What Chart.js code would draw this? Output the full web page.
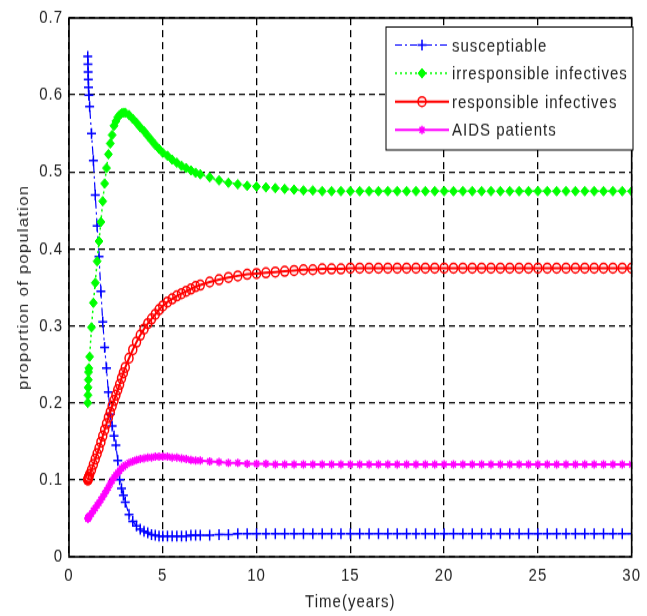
<!DOCTYPE html>
<html>
<head>
<meta charset="utf-8">
<title>Proportion of population over time</title>
<script src="https://cdn.jsdelivr.net/npm/chart.js@4.4.0/dist/chart.umd.min.js"></script>
<style>
  html, body { margin: 0; padding: 0; background: #fff; }
  #page { width: 647px; height: 616px; position: relative; }
  /* the reference picture is stretched a little in height, so the canvas is too */
  #wrap { position: absolute; left: 0; top: 0; width: 647px; height: 513px; transform: scaleY(1.2); transform-origin: 0 0; }
</style>
</head>
<body>
<div id="page"><div id="wrap"><canvas id="popChart" width="647" height="513"></canvas></div></div>
<script>
// ====== DATA ======
const time = [
  1, 1.01, 1.02, 1.03, 1.04, 1.06, 1.1,
  1.2, 1.3, 1.4, 1.5, 1.6, 1.7, 1.8, 1.9, 2.0, 2.1, 2.2, 2.3, 2.4, 2.5, 2.6, 2.7, 2.8, 2.9, 3.0,
  3.2, 3.4, 3.6, 3.8, 4.0, 4.2, 4.4, 4.6, 4.8, 5.0,
  5.25, 5.5, 5.75, 6.0, 6.25, 6.5, 6.75, 7.0,
  7.5, 8, 8.5, 9, 9.5, 10,
  10.5, 11, 11.5, 12, 12.5, 13, 13.5, 14, 14.5, 15, 15.5, 16, 16.5, 17, 17.5, 18, 18.5, 19, 19.5, 20,
  20.5, 21, 21.5, 22, 22.5, 23, 23.5, 24, 24.5, 25, 25.5, 26, 26.5, 27, 27.5, 28, 28.5, 29, 29.5, 30
];

const susceptible = [
  0.65, 0.64, 0.63, 0.62, 0.61, 0.60, 0.585,
  0.55, 0.515, 0.47, 0.43, 0.39, 0.345, 0.305, 0.272, 0.245, 0.214, 0.185, 0.17, 0.157, 0.145, 0.125, 0.1, 0.089, 0.08, 0.071,
  0.055, 0.046, 0.04, 0.036, 0.033, 0.031, 0.029, 0.028, 0.027, 0.027,
  0.027, 0.027, 0.027, 0.027, 0.027, 0.028, 0.028, 0.028,
  0.028, 0.029, 0.029, 0.03, 0.03, 0.03,
  0.03, 0.03, 0.03, 0.03, 0.03, 0.03, 0.03, 0.03, 0.03, 0.03, 0.03, 0.03, 0.03, 0.03, 0.03, 0.03, 0.03, 0.03, 0.03, 0.03,
  0.03, 0.03, 0.03, 0.03, 0.03, 0.03, 0.03, 0.03, 0.03, 0.03, 0.03, 0.03, 0.03, 0.03, 0.03, 0.03, 0.03, 0.03, 0.03, 0.03
];

const irresponsible = [
  0.2, 0.21, 0.22, 0.23, 0.24, 0.245, 0.26,
  0.298, 0.33, 0.356, 0.384, 0.41, 0.435, 0.462, 0.485, 0.505, 0.523, 0.537, 0.548, 0.56, 0.566, 0.571, 0.574, 0.576, 0.577, 0.577,
  0.574, 0.569, 0.564, 0.558, 0.553, 0.547, 0.541, 0.535, 0.53, 0.525,
  0.521, 0.516, 0.512, 0.508, 0.505, 0.502, 0.499, 0.497,
  0.493, 0.489, 0.486, 0.484, 0.482, 0.481,
  0.48, 0.479, 0.478, 0.477, 0.476, 0.476, 0.475, 0.475, 0.475, 0.475, 0.475, 0.475, 0.475, 0.475, 0.475, 0.475, 0.475, 0.475, 0.475, 0.475,
  0.475, 0.475, 0.475, 0.475, 0.475, 0.475, 0.475, 0.475, 0.475, 0.475, 0.475, 0.475, 0.475, 0.475, 0.475, 0.475, 0.475, 0.475, 0.475, 0.475
];

const responsible = [
  0.1, 0.1, 0.101, 0.102, 0.103, 0.104, 0.107,
  0.113, 0.12, 0.127, 0.134, 0.141, 0.149, 0.157, 0.165, 0.173, 0.181, 0.188, 0.196, 0.203, 0.21, 0.217, 0.224, 0.232, 0.239, 0.246,
  0.258, 0.269, 0.279, 0.288, 0.296, 0.303, 0.309, 0.315, 0.321, 0.326,
  0.331, 0.335, 0.339, 0.342, 0.345, 0.348, 0.351, 0.353,
  0.357, 0.36, 0.363, 0.365, 0.367, 0.368,
  0.369, 0.37, 0.371, 0.372, 0.373, 0.373, 0.374, 0.374, 0.374, 0.375, 0.375, 0.375, 0.375, 0.375, 0.375, 0.375, 0.375, 0.375, 0.375, 0.375,
  0.375, 0.375, 0.375, 0.375, 0.375, 0.375, 0.375, 0.375, 0.375, 0.375, 0.375, 0.375, 0.375, 0.375, 0.375, 0.375, 0.375, 0.375, 0.375, 0.375
];

const aidsPatients = [
  0.05, 0.05, 0.05, 0.051, 0.051, 0.052, 0.053,
  0.056, 0.06, 0.063, 0.067, 0.07, 0.074, 0.078, 0.082, 0.086, 0.09, 0.095, 0.099, 0.103, 0.106, 0.109, 0.112, 0.115, 0.117, 0.119,
  0.122, 0.124, 0.126, 0.127, 0.128, 0.129, 0.129, 0.13, 0.13, 0.13,
  0.13, 0.129, 0.129, 0.128, 0.127, 0.126, 0.125, 0.125,
  0.124, 0.123, 0.122, 0.122, 0.121, 0.121,
  0.121, 0.12, 0.12, 0.12, 0.12, 0.12, 0.12, 0.12, 0.12, 0.12, 0.12, 0.12, 0.12, 0.12, 0.12, 0.12, 0.12, 0.12, 0.12, 0.12,
  0.12, 0.12, 0.12, 0.12, 0.12, 0.12, 0.12, 0.12, 0.12, 0.12, 0.12, 0.12, 0.12, 0.12, 0.12, 0.12, 0.12, 0.12, 0.12, 0.12
];

const seriesLabels = ['susceptiable', 'irresponsible infectives', 'responsible infectives', 'AIDS patients'];
const xTicks = [0, 5, 10, 15, 20, 25, 30];
const yTicks = [0, 0.1, 0.2, 0.3, 0.4, 0.5, 0.6, 0.7];
const yTickLabels = ['0', '0.1', '0.2', '0.3', '0.4', '0.5', '0.6', '0.7'];

// ====== HELPERS ======
const FONT = '"Liberation Sans", Arial, sans-serif';
const TEXT = '#222';

function points(values) {
  return time.map((t, i) => ({ x: t, y: values[i] }));
}

// loose MATLAB-ish text spacing for every label drawn on the canvas
const looseText = {
  id: 'looseText',
  beforeDraw(chart) {
    chart.ctx.letterSpacing = '1px';
  }
};

// box round the axes plus the legend inside the plot
const boxAndLegend = {
  id: 'boxAndLegend',
  afterDraw(chart) {
    const { ctx, chartArea: a } = chart;
    ctx.save();
    ctx.setLineDash([]);
    ctx.strokeStyle = '#000';
    ctx.lineWidth = 1.6;
    ctx.strokeRect(a.left, a.top, a.right - a.left, a.bottom - a.top);

    const bx = 386, by = 22.5, bw = 247, bh = 102.5;
    ctx.fillStyle = '#fff';
    ctx.fillRect(bx, by, bw, bh);
    ctx.lineWidth = 1;
    ctx.strokeRect(bx, by, bw, bh);

    chart.data.datasets.forEach((ds, i) => {
      const y = by + 15 + i * 23.6;
      ctx.strokeStyle = ds.borderColor;
      ctx.lineWidth = ds.borderWidth;
      ctx.setLineDash(ds.borderDash || []);
      ctx.beginPath();
      ctx.moveTo(395, y);
      ctx.lineTo(449, y);
      ctx.stroke();
      ctx.setLineDash([]);
      ctx.fillStyle = ds.pointBackgroundColor;
      ctx.lineWidth = ds.pointBorderWidth;
      Chart.helpers.drawPoint(ctx, {
        pointStyle: ds.pointStyle, radius: ds.pointRadius, borderWidth: ds.pointBorderWidth, rotation: 0
      }, 422, y);
      ctx.fillStyle = TEXT;
      ctx.font = '15px ' + FONT;
      ctx.letterSpacing = '1px';
      ctx.textBaseline = 'middle';
      ctx.textAlign = 'left';
      ctx.fillText(ds.label, 452, y + 1);
    });
    ctx.restore();
  }
};

// ====== CHART ======
const ctx = document.getElementById('popChart').getContext('2d');

new Chart(ctx, {
  type: 'line',
  data: {
    datasets: [{
      label: seriesLabels[0],
      data: points(susceptible),
      borderColor: '#0000ff', borderWidth: 1.2, borderDash: [7, 3, 2, 3],
      pointStyle: 'cross', pointRadius: 4.5, pointBorderWidth: 1.5,
      pointBackgroundColor: '#0000ff', pointBorderColor: '#0000ff',
      order: 4
    }, {
      label: seriesLabels[1],
      data: points(irresponsible),
      borderColor: '#00ff00', borderWidth: 1.5, borderDash: [2, 3],
      pointStyle: 'rectRot', pointRadius: 4, pointBorderWidth: 1,
      pointBackgroundColor: '#00ff00', pointBorderColor: '#00ff00',
      order: 3
    }, {
      label: seriesLabels[2],
      data: points(responsible),
      borderColor: '#ff0000', borderWidth: 2,
      pointStyle: 'circle', pointRadius: 4, pointBorderWidth: 1.5,
      pointBackgroundColor: 'rgba(0,0,0,0)', pointBorderColor: '#ff0000',
      order: 2
    }, {
      label: seriesLabels[3],
      data: points(aidsPatients),
      borderColor: '#ff00ff', borderWidth: 2,
      pointStyle: 'star', pointRadius: 3.5, pointBorderWidth: 1.5,
      pointBackgroundColor: '#ff00ff', pointBorderColor: '#ff00ff',
      order: 1
    }]
  },
  options: {
    responsive: false,
    animation: false,
    devicePixelRatio: 1,
    layout: { padding: { top: 12.5, right: 8, left: 0, bottom: 0 } },
    elements: { line: { tension: 0, fill: false } },
    plugins: {
      legend: { display: false },
      tooltip: { enabled: false }
    },
    scales: {
      x: {
        type: 'linear', min: 0, max: 30,
        afterBuildTicks: s => { s.ticks = xTicks.map(v => ({ value: v })); },
        afterFit: s => { s.height = 49; },
        ticks: { color: TEXT, font: { family: FONT, size: 15 }, padding: 7, maxRotation: 0 },
        grid: { color: '#000', lineWidth: 1.3, drawTicks: false },
        border: { display: false, dash: [6, 4] },
        title: {
          display: true, text: 'Time(years)', color: TEXT,
          font: { family: FONT, size: 15 }, padding: { top: 0, bottom: 2 }
        }
      },
      y: {
        type: 'linear', min: 0, max: 0.7,
        afterBuildTicks: s => { s.ticks = yTicks.map(v => ({ value: v })); },
        afterFit: s => { s.width = 69; },
        ticks: {
          color: TEXT, font: { family: FONT, size: 15 }, padding: 6,
          callback: (v, i) => yTickLabels[i]
        },
        grid: { color: '#000', lineWidth: 1.3, drawTicks: false },
        border: { display: false, dash: [6, 4] },
        title: {
          display: true, text: 'proportion of population', color: TEXT,
          font: { family: FONT, size: 14 }, padding: { top: 16, bottom: 0 }
        }
      }
    }
  },
  plugins: [looseText, boxAndLegend]
});
</script>
</body>
</html>
